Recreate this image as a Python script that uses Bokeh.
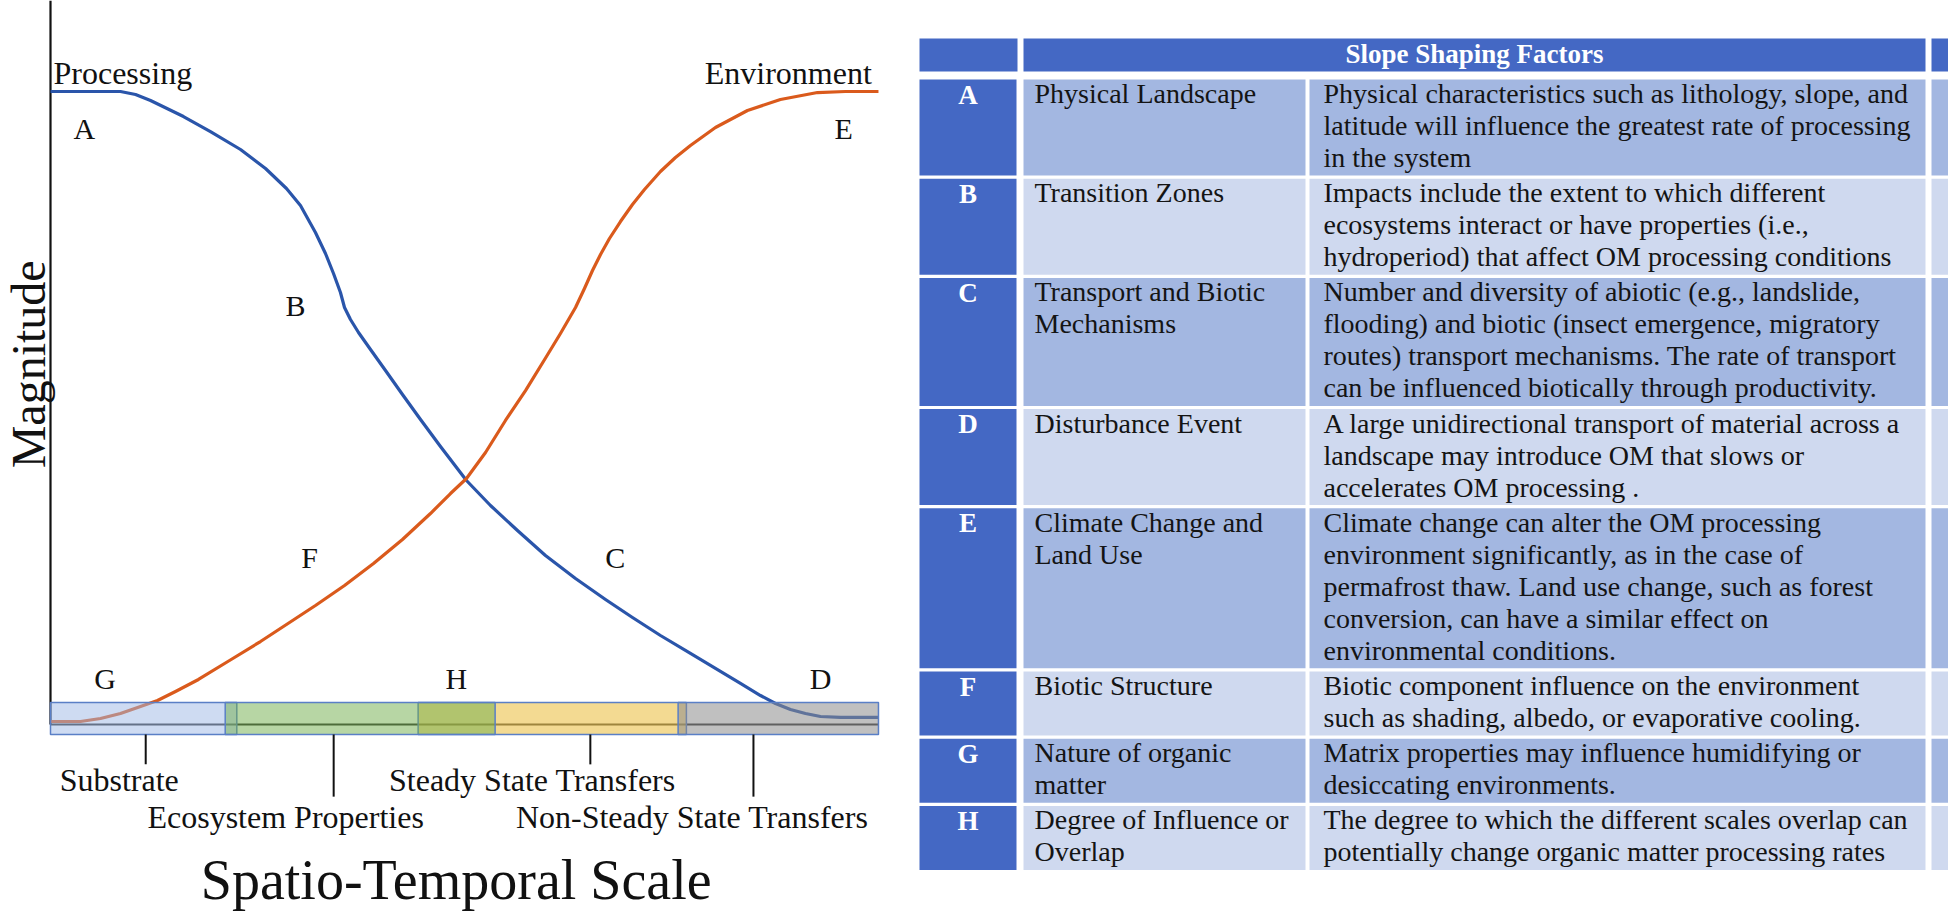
import numpy as np
from bokeh.plotting import figure
from bokeh.models import Range1d
from bokeh.layouts import row
from bokeh.core.properties import value
from bokeh.embed import file_html
from bokeh.resources import INLINE

# ------------------------------------------------------------------ data: curves
processing_x = [0, 8.45, 10.27, 12.08, 16.06, 19.32, 22.95, 25.97, 28.50, 30.19, 32.00,
                33.21, 34.18, 35.02, 35.51, 36.23, 37.20, 38.65, 40.46, 42.51, 44.69,
                47.10, 50.24, 53.14, 56.40, 59.78, 63.41, 67.03, 70.29, 73.67, 77.29,
                80.31, 83.33, 85.75, 87.56, 89.37, 91.18, 93.00, 95.41, 100]
processing_y = [100, 100, 99.53, 98.58, 96.05, 93.68, 90.84, 87.84, 84.68, 81.99, 77.73,
                74.41, 71.25, 68.25, 65.88, 63.98, 61.93, 59.24, 55.92, 52.13, 48.18,
                43.92, 38.55, 34.60, 30.65, 26.70, 23.06, 19.75, 16.90, 14.06, 11.22,
                8.85, 6.48, 4.58, 3.32, 2.37, 1.74, 1.26, 1.11, 1.11]
environment_x = [0, 3.62, 6.04, 8.45, 10.87, 12.92, 15.10, 17.87, 21.62, 25.36, 28.50,
                 32.00, 35.51, 39.01, 42.51, 45.89, 48.31, 50.24, 52.54, 54.95, 57.37,
                 59.90, 61.59, 63.41, 64.49, 65.46, 66.43, 67.51, 68.84, 70.29, 71.74,
                 73.67, 75.48, 77.29, 80.31, 84.18, 88.16, 92.63, 96.01, 100]
environment_y = [0.47, 0.47, 0.95, 1.74, 2.84, 3.79, 5.21, 7.11, 10.11, 13.11, 15.80,
                 18.80, 21.96, 25.43, 29.23, 33.33, 36.49, 38.86, 42.97, 48.03, 52.76,
                 58.14, 61.77, 65.88, 68.88, 71.72, 74.25, 76.78, 79.46, 82.15, 84.52,
                 87.36, 89.57, 91.47, 94.31, 97.00, 98.74, 99.84, 100, 100]

# scales along the x axis
scale_names = ["Substrate", "Ecosystem Properties", "Steady State Transfers",
               "Non-Steady State Transfers"]
scale_start = [0, 21.1, 44.4, 75.8]
scale_end = [22.5, 53.7, 76.8, 100]
scale_tick = [11.5, 34.2, 65.2, 84.9]

curve_letters = ["A", "B", "C", "D", "E", "F", "G", "H"]

# ------------------------------------------------------------------ data: table
table_title = "Slope Shaping Factors"
letters = ["A", "B", "C", "D", "E", "F", "G", "H"]
factors = [
    ["Physical Landscape"],
    ["Transition Zones"],
    ["Transport and Biotic", "Mechanisms"],
    ["Disturbance Event"],
    ["Climate Change and", "Land Use"],
    ["Biotic Structure"],
    ["Nature of organic", "matter"],
    ["Degree of Influence or", "Overlap"],
]
descriptions = [
    ["Physical characteristics such as lithology, slope, and",
     "latitude will influence the greatest rate of processing",
     "in the system"],
    ["Impacts include the extent to which different",
     "ecosystems interact or have properties (i.e.,",
     "hydroperiod) that affect OM processing conditions"],
    ["Number and diversity of abiotic (e.g., landslide,",
     "flooding) and biotic (insect emergence, migratory",
     "routes) transport mechanisms. The rate of transport",
     "can be influenced biotically through productivity."],
    ["A large unidirectional transport of material across a",
     "landscape may introduce OM that slows or",
     "accelerates OM processing ."],
    ["Climate change can alter the OM processing",
     "environment significantly, as in the case of",
     "permafrost thaw. Land use change, such as forest",
     "conversion, can have a similar effect on",
     "environmental conditions."],
    ["Biotic component influence on the environment",
     "such as shading, albedo, or evaporative cooling."],
    ["Matrix properties may influence humidifying or",
     "desiccating environments."],
    ["The degree to which the different scales overlap can",
     "potentially change organic matter processing rates"],
]

FONT = value("Liberation Serif")
H = 913

# ================================================================== left chart
left = figure(width=900, height=H, x_range=Range1d(-6.039, 102.66),
              y_range=Range1d(-29.86, 114.38), output_backend="svg",
              toolbar_location=None, min_border=0, x_axis_type=None, y_axis_type=None)
left.outline_line_color = None
left.background_fill_color = "white"
left.border_fill_color = "white"
left.xgrid.visible = False
left.ygrid.visible = False

# axes lines
left.segment(x0=[0], y0=[0], x1=[0], y1=[left.y_range.end], line_color="#111111", line_width=2.2)
left.segment(x0=[0], y0=[0], x1=[100], y1=[0], line_color="#2b2b2b", line_width=2.2)

# curves
left.line(processing_x, processing_y, line_color="#2A55AA", line_width=3.2, line_join="round")
left.line(environment_x, environment_y, line_color="#DA5A1C", line_width=3.2, line_join="round")

# scale bar boxes (drawn over curves, translucent)
bar_bottom, bar_top = -1.58, 3.48
fills = {"Substrate": ("#9DB8E6", 0.5), "Ecosystem Properties": ("#6FAE4A", 0.5),
         "Steady State Transfers": ("#EBC14A", 0.6), "Non-Steady State Transfers": ("#8C8C8C", 0.55)}
for i in [0, 2, 3, 1]:
    c, a = fills[scale_names[i]]
    left.quad(left=[scale_start[i]], right=[scale_end[i]], bottom=[bar_bottom], top=[bar_top],
              fill_color=c, fill_alpha=a, line_color="#5A7FC6", line_width=1.5)

# ticks and labels under the bar
tick_len = [-6.3, -11.4, -6.3, -11.4]
left.segment(x0=scale_tick, y0=[bar_bottom] * 4, x1=scale_tick, y1=tick_len,
             line_color="#111111", line_width=2)
label_x = [8.3, 28.4, 58.2, 77.5]
label_y = [-8.75, -14.66, -8.75, -14.66]
left.text(x=label_x, y=label_y, text=scale_names, text_font=FONT, text_font_size=value("32px"),
          text_align="center", text_baseline="alphabetic", text_color="#111111")

# curve letters
letter_x = [4.1, 29.6, 68.2, 93.0, 95.8, 31.3, 6.6, 49.0]
letter_y = [94.2, 66.2, 26.4, 7.3, 94.2, 26.4, 7.3, 7.3]
left.text(x=letter_x, y=letter_y, text=curve_letters, text_font=FONT,
          text_font_size=value("30px"), text_align="center", text_baseline="alphabetic",
          text_color="#111111")

# curve names
left.text(x=[0.36], y=[102.9], text=["Processing"], text_font=FONT, text_font_size=value("32px"),
          text_align="left", text_baseline="alphabetic", text_color="#111111")
left.text(x=[99.2], y=[102.9], text=["Environment"], text_font=FONT, text_font_size=value("32px"),
          text_align="right", text_baseline="alphabetic", text_color="#111111")

# axis titles
left.text(x=[49.0], y=[-24.6], text=["Spatio-Temporal Scale"], text_font=FONT,
          text_font_size=value("56px"), text_align="center", text_baseline="alphabetic",
          text_color="#111111")
left.text(x=[-2.66], y=[56.9], text=["Magnitude"], text_font=FONT, angle=np.pi / 2,
          text_font_size=value("48px"), text_align="center", text_baseline="alphabetic",
          text_color="#111111")

# ================================================================== table
tab = figure(width=1048, height=H, x_range=Range1d(900, 1948), y_range=Range1d(H, 0),
             output_backend="svg", toolbar_location=None, min_border=0,
             x_axis_type=None, y_axis_type=None)
tab.outline_line_color = None
tab.background_fill_color = "white"
tab.border_fill_color = "white"
tab.xgrid.visible = False
tab.ygrid.visible = False

DARK = "#4468C4"
MED = "#A3B7E1"
LIGHT = "#CFD9EF"
col_l = [919, 1023, 1309, 1931]
col_r = [1016, 1305, 1925, 1950]

# header
tab.quad(left=[919, 1023, 1931], right=[1017, 1925, 1950], top=[38] * 3, bottom=[71] * 3,
         fill_color=DARK, line_color=None)
tab.text(x=[1474], y=[53.5], text=[table_title], text_font=FONT, text_font_style="bold",
         text_font_size=value("27px"), text_align="center", text_baseline="middle",
         text_color="white")

LINE, GAP, TOP0 = 32, 3.2, 79
tops, bots = [], []
yy = TOP0
for d in descriptions:
    tops.append(yy)
    bots.append(yy + LINE * len(d))
    yy += LINE * len(d) + GAP

ql, qr, qt, qb, qc = [], [], [], [], []
for i in range(len(letters)):
    shade = MED if i % 2 == 0 else LIGHT
    for j in range(4):
        ql.append(col_l[j]); qr.append(col_r[j]); qt.append(tops[i]); qb.append(bots[i])
        qc.append(DARK if j == 0 else shade)
tab.quad(left=ql, right=qr, top=qt, bottom=qb, fill_color=qc, line_color=None)

# letters
tab.text(x=[967.5] * len(letters), y=[t + 15 for t in tops], text=letters, text_font=FONT,
         text_font_style="bold", text_font_size=value("27px"), text_align="center",
         text_baseline="middle", text_color="white")

fx, fy, ft, dx, dy, dt = [], [], [], [], [], []
for i in range(len(letters)):
    for k, s in enumerate(factors[i]):
        fx.append(1034); fy.append(tops[i] + 14 + LINE * k); ft.append(s)
    for k, s in enumerate(descriptions[i]):
        dx.append(1323); dy.append(tops[i] + 14 + LINE * k); dt.append(s)
tab.text(x=fx, y=fy, text=ft, text_font=FONT, text_font_size=value("28px"), text_align="left",
         text_baseline="middle", text_color="#141414")
tab.text(x=dx, y=dy, text=dt, text_font=FONT, text_font_size=value("28px"), text_align="left",
         text_baseline="middle", text_color="#141414")

layout = row(left, tab, spacing=0)
open("out.html", "w").write(file_html(layout, INLINE))
